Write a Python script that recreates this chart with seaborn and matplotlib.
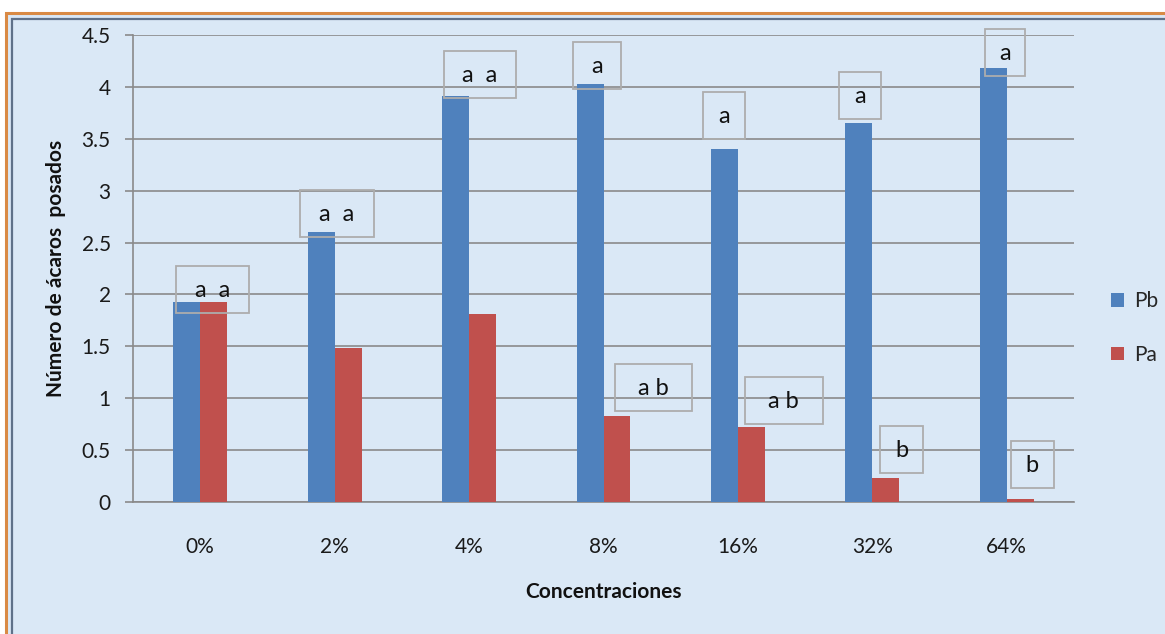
import matplotlib
matplotlib.use("Agg")
import matplotlib.pyplot as plt
from matplotlib.patches import Rectangle, Patch
import seaborn as sns
import pandas as pd

# ---- data ----
concentraciones = ["0%", "2%", "4%", "8%", "16%", "32%", "64%"]
pb_values = [1.93, 2.60, 3.91, 4.03, 3.40, 3.65, 4.18]
pa_values = [1.93, 1.48, 1.81, 0.83, 0.72, 0.23, 0.03]
series_names = ["Pb", "Pa"]
pb_letters = ["a  a", "a  a", "a  a", "a", "a", "a", "a"]
pa_letters = ["", "", "", "a b", "a b", "b", "b"]
y_ticks = [0, 0.5, 1, 1.5, 2, 2.5, 3, 3.5, 4, 4.5]
y_tick_labels = ["0", "0.5", "1", "1.5", "2", "2.5", "3", "3.5", "4", "4.5"]

# ---- layout (label box offsets: dx in categories, dy in data units, box w in px) ----
pb_box = [(0.09, 0.12, 73), (0.015, 0.18, 74), (0.08, 0.21, 72), (-0.045, 0.18, 48),
          (-0.10, 0.32, 42), (-0.094, 0.27, 42), (-0.012, 0.15, 40)]
pa_box = [None, None, None, (0.37, 0.275, 77), (0.34, 0.26, 78), (0.22, 0.28, 43), (0.19, 0.33, 43)]
BOX_H = 47

BLUE = "#4F81BD"
RED = "#C0504D"
BG = "#dae8f6"
GRID = "#8a8a8a"
W, H = 1165, 634

df = pd.DataFrame({
    "Concentraciones": concentraciones * 2,
    "valor": pb_values + pa_values,
    "serie": [series_names[0]] * len(pb_values) + [series_names[1]] * len(pa_values),
})

sns.set_theme(style="white")
plt.rcParams["font.family"] = ["Lato", "DejaVu Sans"]

fig = plt.figure(figsize=(W / 100, H / 100), dpi=100)
fig.patch.set_facecolor("white")

# outer frame
fig.add_artist(Rectangle((5.5 / W, -0.05), 1.2, 1 - 13 / H + 0.05, transform=fig.transFigure,
                         facecolor=BG, edgecolor="#d98a45", linewidth=2.2, zorder=0))
fig.add_artist(Rectangle((12 / W, -0.05), 1.2, 1 - 18.5 / H + 0.05, transform=fig.transFigure,
                         facecolor="none", edgecolor="#5f7189", linewidth=1.6, zorder=0))

ax = fig.add_axes([133 / W, (H - 502) / H, (1074 - 133) / W, (502 - 35) / H])
ax.set_facecolor("none")

sns.barplot(data=df, x="Concentraciones", y="valor", hue="serie",
            hue_order=series_names, palette=[BLUE, RED], width=0.4,
            saturation=1, ax=ax, legend=False, zorder=3,
            edgecolor="none", linewidth=0)

ax.set_ylim(0, 4.5)
ax.set_xlim(-0.5, len(concentraciones) - 0.5)
ax.set_yticks(y_ticks)
ax.set_yticklabels(y_tick_labels)
ax.yaxis.grid(True, color=GRID, linewidth=1.2, zorder=0)
ax.set_axisbelow(True)
for s in ["top", "right"]:
    ax.spines[s].set_visible(False)
for s in ["left", "bottom"]:
    ax.spines[s].set_color(GRID)
    ax.spines[s].set_linewidth(1.2)
ax.tick_params(axis="y", length=6, width=1.2, color=GRID, pad=10, labelsize=15, labelcolor="#1a1a1a")
ax.tick_params(axis="x", length=0, pad=25, labelsize=15, labelcolor="#1a1a1a")
ax.tick_params(axis="y", left=True)

ax.set_xlabel("Concentraciones", fontsize=15, fontweight="bold", labelpad=18, color="#111111")
ax.set_ylabel("Número de ácaros  posados", fontsize=15, fontweight="bold", labelpad=11, color="#111111")

# letter boxes
px_x = (1074 - 133) / len(concentraciones)
px_y = (502 - 35) / 4.5


def draw_label(i, val, txt, spec):
    dx, dy, wpx = spec
    cx, cy = i + dx, val + dy
    bw, bh = wpx / px_x, BOX_H / px_y
    ax.add_patch(Rectangle((cx - bw / 2, cy - bh / 2), bw, bh, facecolor="none",
                           edgecolor="#adadad", linewidth=1.3, zorder=5, clip_on=False))
    ax.text(cx, cy - 0.01, txt, ha="center", va="center", fontsize=17, color="#111111", zorder=6)


for i, (v, t, spec) in enumerate(zip(pb_values, pb_letters, pb_box)):
    if t and spec:
        draw_label(i, v, t, spec)
for i, (v, t, spec) in enumerate(zip(pa_values, pa_letters, pa_box)):
    if t and spec:
        draw_label(i, v, t, spec)

handles = [Patch(facecolor=BLUE, edgecolor="none"), Patch(facecolor=RED, edgecolor="none")]
fig.legend(handles, series_names, loc="center left", bbox_to_anchor=(1111 / W, 1 - 328 / H),
           frameon=False, fontsize=15, handlelength=0.6, handleheight=0.6,
           handletextpad=0.5, labelspacing=1.6, borderpad=0, borderaxespad=0)

fig.savefig("out.png", dpi=100)
